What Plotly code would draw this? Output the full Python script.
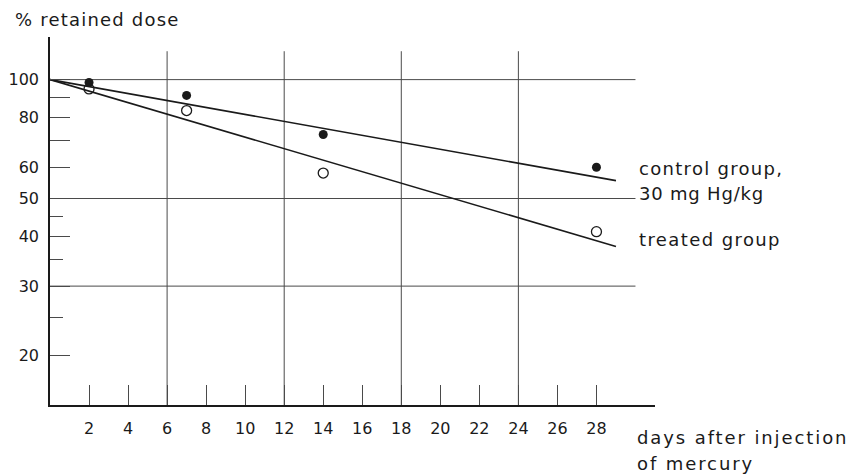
import plotly.graph_objects as go
import math

# ---- data ----
days = [2, 7, 14, 28]
control_group = [98.3, 91.2, 72.6, 60.0]     # filled circles
treated_group = [94.7, 83.5, 58.0, 41.2]     # open circles

fit_days = [0, 29]
control_fit = [100, 55.5]
treated_fit = [100, 37.8]

x_tickvals = [2, 4, 6, 8, 10, 12, 14, 16, 18, 20, 22, 24, 26, 28]
x_gridvals = [6, 12, 18, 24]
y_tickvals = [20, 30, 40, 50, 60, 70, 80, 90, 100]
y_ticktext = ["20", "30", "40", "50", "60", "", "80", "", "100"]
y_minorvals = [25, 35, 45]
y_gridvals = [30, 50, 100]

# ---- layout geometry (pixels) ----
W, H = 852, 476
L, R, T, B = 50, 197, 37, 71
pw, ph = W - L - R, H - T - B

def px(xp):
    return (xp - L) / pw

def py(yp):
    return (H - B - yp) / ph

INK = "#1a1a1a"
GRID = "#4a4a4a"
FONT = "DejaVu Sans"

def spaced(s, sp):
    return '<span style="letter-spacing:%spx">%s</span>' % (sp, s)

fig = go.Figure()

fig.add_trace(go.Scatter(x=fit_days, y=control_fit, mode="lines",
                         line=dict(color=INK, width=1.6), showlegend=False))
fig.add_trace(go.Scatter(x=fit_days, y=treated_fit, mode="lines",
                         line=dict(color=INK, width=1.6), showlegend=False))
fig.add_trace(go.Scatter(x=days, y=control_group, mode="markers",
                         marker=dict(symbol="circle", size=9, color=INK),
                         showlegend=False))
fig.add_trace(go.Scatter(x=days, y=treated_group, mode="markers",
                         marker=dict(symbol="circle-open", size=10, color=INK,
                                     line=dict(width=1.3)),
                         showlegend=False))

shapes = []
for g in x_gridvals:
    shapes.append(dict(type="line", xref="x", yref="y", x0=g, x1=g, y0=15, y1=118,
                       line=dict(color=GRID, width=1), layer="below"))
for g in y_gridvals:
    shapes.append(dict(type="line", xref="x", yref="y", x0=0, x1=30, y0=g, y1=g,
                       line=dict(color=GRID, width=1), layer="below"))

annotations = [
    dict(text=spaced("% retained dose", 1.2), x=px(13), y=py(20)),
    dict(text=spaced("control group,", 1.3), x=px(637), y=py(168)),
    dict(text=spaced("30 mg Hg/kg", 0.8), x=px(637), y=py(194)),
    dict(text=spaced("treated group", 1.4), x=px(637), y=py(239)),
    dict(text=spaced("days after injection", 1.9), x=px(635), y=py(437)),
    dict(text=spaced("of mercury", 1.9), x=px(635), y=py(463)),
]
for a in annotations:
    a.update(xref="paper", yref="paper", showarrow=False,
             xanchor="left", yanchor="middle",
             font=dict(family=FONT, color=INK, size=18))

fig.update_layout(
    width=W, height=H,
    margin=dict(l=L, r=R, t=T, b=B, autoexpand=False),
    paper_bgcolor="white", plot_bgcolor="white",
    font=dict(family=FONT, color=INK, size=17),
    shapes=shapes, annotations=annotations,
    xaxis=dict(range=[0, 31], showgrid=False, zeroline=False,
               showline=True, linecolor=INK, linewidth=1.6,
               tickmode="array", tickvals=x_tickvals,
               ticks="inside", ticklen=20, tickwidth=1, tickcolor=GRID,
               ticklabelstandoff=8,
               tickfont=dict(size=16, family=FONT, color=INK)),
    yaxis=dict(type="log", range=[math.log10(15.0), math.log10(128.2)],
               showgrid=False, zeroline=False,
               showline=True, linecolor=INK, linewidth=1.6,
               tickmode="array", tickvals=y_tickvals, ticktext=y_ticktext,
               ticks="inside", ticklen=20, tickwidth=1, tickcolor=GRID,
               ticklabelstandoff=6,
               tickfont=dict(size=16, family=FONT, color=INK),
               minor=dict(tickmode="array", tickvals=y_minorvals, ticks="inside",
                          ticklen=13, tickwidth=1, tickcolor=GRID, showgrid=False)),
)

fig.write_html("out.html", config={"displayModeBar": False},
               post_script="document.body.style.margin='0';document.body.style.overflow='hidden';")
